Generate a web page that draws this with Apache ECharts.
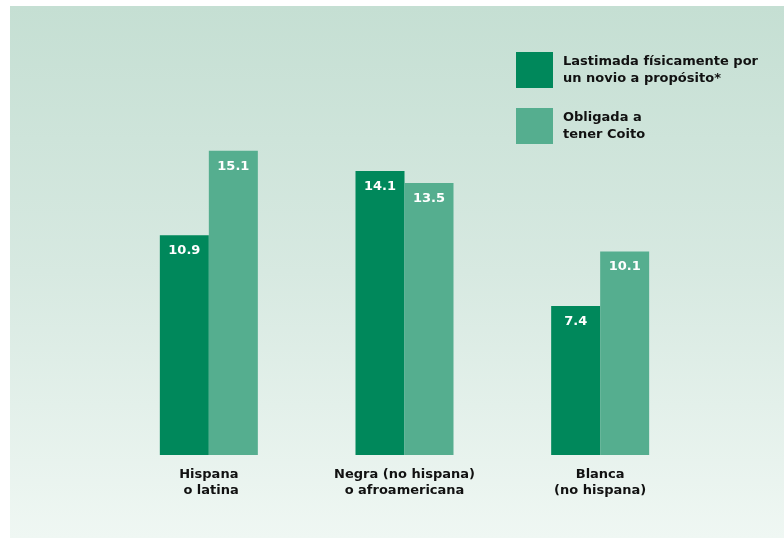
<!DOCTYPE html>
<html>
<head>
<meta charset="utf-8">
<script src="https://cdn.jsdelivr.net/npm/echarts@6/dist/echarts.min.js"></script>
<style>
  html, body { margin: 0; padding: 0; background: #ffffff; }
  #chart { width: 784px; height: 538px; }
</style>
</head>
<body>
<div id="chart"></div>
<script>
// Categories and percentages
const categories = ['Hispana\n o latina', 'Negra (no hispana)\no afroamericana', 'Blanca\n(no hispana)'];
const seriesNames = ['Lastimada físicamente por\nun novio a propósito*', 'Obligada a\ntener Coito'];
const lastimada = [10.9, 14.1, 7.4];
const obligada = [15.1, 13.5, 10.1];

const darkGreen = '#00885b';
const lightGreen = '#55ae8f';
const fontFamily = '"DejaVu Sans", "Liberation Sans", Arial, sans-serif';

const chart = echarts.init(document.getElementById('chart'), null, { renderer: 'canvas' });

const valueLabel = {
  show: true,
  position: 'insideTop',
  distance: 9,
  color: '#ffffff',
  fontFamily: fontFamily,
  fontWeight: 'bold',
  fontSize: 13,
  formatter: p => p.value.toFixed(1)
};

chart.setOption({
  animation: false,
  backgroundColor: '#ffffff',
  graphic: [{
    type: 'rect',
    z: -10,
    silent: true,
    shape: { x: 10, y: 6, width: 774, height: 532 },
    style: {
      fill: new echarts.graphic.LinearGradient(0, 0, 0, 1, [
        { offset: 0, color: '#c5dfd3' },
        { offset: 0.5, color: '#d7e9e1' },
        { offset: 1, color: '#eff7f3' }
      ])
    }
  }],
  legend: {
    orient: 'vertical',
    left: 511,
    top: 47,
    itemWidth: 37,
    itemHeight: 36,
    itemGap: 19,
    icon: 'rect',
    textStyle: {
      color: '#111111',
      fontFamily: fontFamily,
      fontWeight: 'bold',
      fontSize: 13,
      lineHeight: 17,
      padding: [0, 0, 0, 5]
    },
    data: [
      { name: seriesNames[0] },
      { name: seriesNames[1], textStyle: { padding: [4, 0, 0, 5] } }
    ]
  },
  grid: { left: 111, right: 86, top: 52, bottom: 83 },
  xAxis: {
    type: 'category',
    data: categories,
    axisLine: { show: false },
    axisTick: { show: false },
    axisLabel: {
      margin: 12,
      color: '#111111',
      fontFamily: fontFamily,
      fontWeight: 'bold',
      fontSize: 13,
      lineHeight: 16,
      align: 'center'
    }
  },
  yAxis: {
    type: 'value',
    min: 0,
    max: 20,
    show: false,
    splitLine: { show: false }
  },
  series: [
    {
      name: seriesNames[0],
      type: 'bar',
      data: lastimada,
      barWidth: 49,
      barGap: '0%',
      itemStyle: { color: darkGreen },
      label: valueLabel
    },
    {
      name: seriesNames[1],
      type: 'bar',
      data: obligada,
      barWidth: 49,
      barGap: '0%',
      itemStyle: { color: lightGreen },
      label: valueLabel
    }
  ]
});
</script>
</body>
</html>
